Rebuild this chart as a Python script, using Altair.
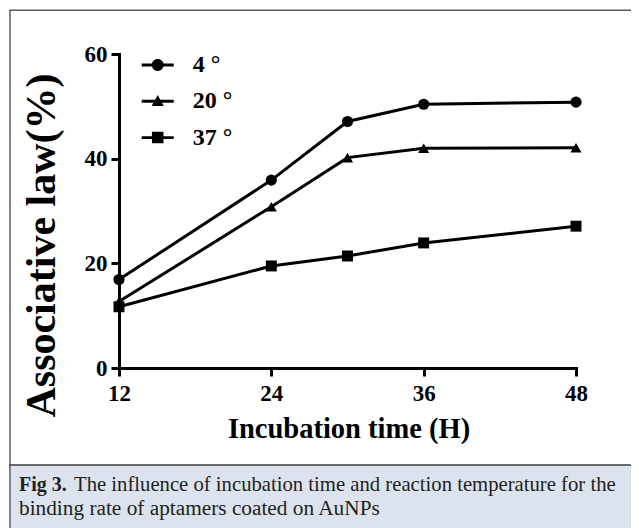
import altair as alt
import pandas as pd

# ---- data ----
time_h = [12, 24, 30, 36, 48]
series_labels = ["4 \u00b0", "20 \u00b0", "37 \u00b0"]
bind_4 = [16.9, 35.9, 47.1, 50.4, 50.8]
bind_20 = [12.7, 30.8, 40.2, 42.0, 42.1]
bind_37 = [11.7, 19.5, 21.4, 23.9, 27.1]
x_ticks = [12, 24, 36, 48]
y_ticks = [0, 20, 40, 60]
caption_bold = "Fig 3."
caption_line1 = "The influence of incubation time and reaction temperature for the"
caption_line2 = "binding rate of aptamers coated on AuNPs"

rows = []
for lab, vals in zip(series_labels, [bind_4, bind_20, bind_37]):
    for t, v in zip(time_h, vals):
        rows.append({"time": t, "value": v, "series": lab})
df = pd.DataFrame(rows)
one = pd.DataFrame({"k": [0]})

FONT = "Liberation Serif"
W, H = 457, 314
TOTAL_W, TOTAL_H = 623, 520
PAD_L, PAD_T = 111, 46

xenc = alt.X("time:Q", scale=alt.Scale(domain=[12, 48], nice=False, zero=False),
             axis=alt.Axis(values=x_ticks, format="d", grid=False, domainWidth=3,
                           domainColor="black", domainCap="square", tickColor="black",
                           tickWidth=3, tickSize=8, labelFont=FONT, labelFontSize=23,
                           labelFontWeight="bold", labelColor="black", labelPadding=6,
                           labelFlush=False,
                           title="Incubation time (H)", titleFont=FONT, titleFontSize=28.5,
                           titleFontWeight="bold", titleColor="black", titleY=69,
                           titleBaseline="alphabetic", titleX=W / 2 + 1))
yenc = alt.Y("value:Q", scale=alt.Scale(domain=[0, 60], nice=False),
             axis=alt.Axis(values=y_ticks, grid=False, domainWidth=3, domainColor="black",
                           domainCap="square", tickColor="black", tickWidth=3, tickSize=8,
                           labelFont=FONT, labelFontSize=23, labelFontWeight="bold",
                           labelColor="black", labelPadding=4, labelFlush=False,
                           title="Associative law(%)", titleFont=FONT, titleFontSize=42,
                           titleFontWeight="bold", titleColor="black", titleAngle=270,
                           titleBaseline="bottom", titleAlign="center", titleX=-56, titleY=191))

base = alt.Chart(df)
deco = alt.Chart(one)

lines = base.mark_line(color="black", strokeWidth=3).encode(x=xenc, y=yenc, detail="series:N")

points = base.mark_point(filled=True, color="black", opacity=1).encode(
    x=xenc, y=yenc,
    shape=alt.Shape("series:N", scale=alt.Scale(domain=series_labels,
                                                range=["circle", "triangle-up", "square"]),
                    legend=None),
    size=alt.Size("series:N", scale=alt.Scale(domain=series_labels, range=[125, 120, 150]),
                  legend=None),
)

legend_paths = [
    "M-1,-0.09H1V0.09H-1ZM0.37,0A0.37,0.37,0,1,1,-0.37,0A0.37,0.37,0,1,1,0.37,0Z",
    "M-1,-0.09H1V0.09H-1ZM0,-0.4L0.38,0.3L-0.38,0.3Z",
    "M-1,-0.09H1V0.09H-1ZM-0.36,-0.36H0.36V0.36H-0.36Z",
]
legend_layer = base.transform_calculate(key="datum.series").transform_filter("false").mark_point(
    filled=True, color="black", opacity=1).encode(
    shape=alt.Shape("key:N", scale=alt.Scale(domain=series_labels, range=legend_paths),
                    legend=alt.Legend(title=None, orient="none", legendX=22.7, legendY=-5,
                                      symbolSize=1024, symbolStrokeWidth=0,
                                      symbolFillColor="black", symbolStrokeColor="black",
                                      symbolOpacity=1, labelFont=FONT, labelFontSize=24,
                                      labelFontWeight="bold", labelColor="black",
                                      labelOffset=19, rowPadding=8.3, padding=0)),
)

# ---- figure frame and caption panel ----
R = TOTAL_W - PAD_L + 20
B = TOTAL_H - PAD_T + 20
frame_left = deco.mark_rule(color="#5a5a5a", strokeWidth=1.5).encode(
    x=alt.value(-109), y=alt.value(-44), y2=alt.value(B))
frame_top = deco.mark_rule(color="#5a5a5a", strokeWidth=1.5).encode(
    x=alt.value(-110), x2=alt.value(R), y=alt.value(-43.7))
caption_bg = deco.mark_rect(color="#dce3ee").encode(
    x=alt.value(-108.3), x2=alt.value(R), y=alt.value(411), y2=alt.value(B))
caption_sep = deco.mark_rule(color="#3f3f3f", strokeWidth=1.5).encode(
    x=alt.value(-110), x2=alt.value(R), y=alt.value(411))
cap_b = deco.mark_text(text=caption_bold, font=FONT, fontSize=20, fontWeight="bold",
                       align="left", baseline="alphabetic", color="#231f20").encode(
    x=alt.value(-100), y=alt.value(437))
cap_1 = deco.mark_text(text=caption_line1, font=FONT, fontSize=20.7, align="left",
                       baseline="alphabetic", color="#231f20").encode(
    x=alt.value(-45), y=alt.value(437))
cap_2 = deco.mark_text(text=caption_line2, font=FONT, fontSize=21.3, align="left",
                       baseline="alphabetic", color="#231f20").encode(
    x=alt.value(-100), y=alt.value(461))

chart = alt.layer(caption_bg, frame_left, frame_top, caption_sep, cap_b, cap_1, cap_2,
                  lines, points, legend_layer).resolve_scale(
    shape="independent", size="independent").properties(
    width=W, height=H,
    autosize=alt.AutoSizeParams(type="none"),
    padding={"left": PAD_L, "top": PAD_T, "right": TOTAL_W - PAD_L - W,
             "bottom": TOTAL_H - PAD_T - H},
).configure_view(stroke=None)

chart.save("out.html", embed_options={"renderer": "svg", "actions": False})
